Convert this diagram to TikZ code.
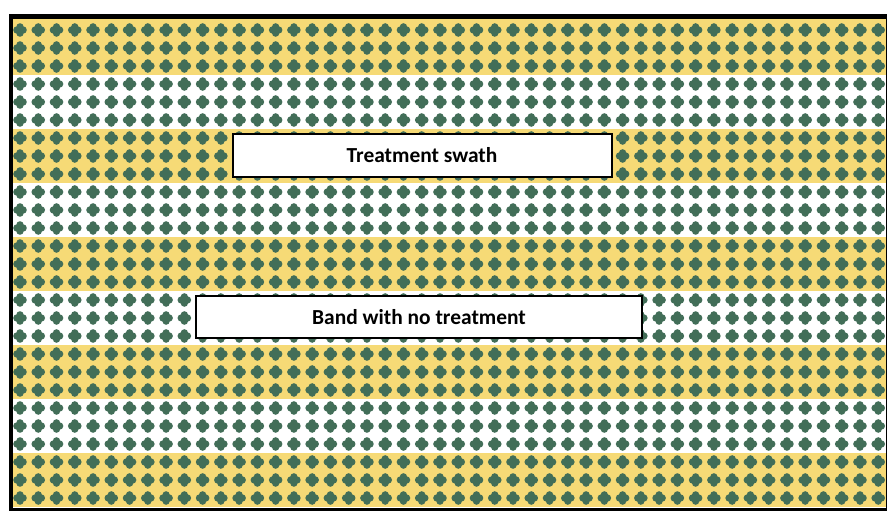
\documentclass[tikz,border=0pt]{standalone}
\usepackage{fontspec}
\setmainfont{Carlito}
\definecolor{leaf}{RGB}{66,110,88}
\definecolor{sun}{RGB}{246,218,118}
\tikzset{
  lab/.style={draw=black, line width=2bp, fill=white, inner sep=0pt,
    font=\fontsize{21.5}{24}\selectfont\bfseries},
}
\begin{document}
\begin{tikzpicture}[x=1bp,y=-1bp]
\useasboundingbox (0,0) rectangle (887,511);
% frame
\fill[black] (8.5,14) rectangle (887,511);
\fill[white] (13,19) rectangle (885.5,507.5);
% yellow bands
\fill[sun] (13,19) rectangle (885.5,75);
\foreach \k in {2,4,6,8} {
  \fill[sun] (13,{21+54*\k}) rectangle (885.5,{75+54*\k});
}
% clover dots
\foreach \r in {0,...,26} {
  \fill[leaf] \foreach \c in {0,...,47} {
    ({20+18.26*\c},{30+18*\r})
      +(3.1,0) circle[radius=3.7] +(-3.1,0) circle[radius=3.7]
      +(0,3.1) circle[radius=3.7] +(0,-3.1) circle[radius=3.7]
      +(0,0) circle[radius=3.7]
  };
}
% labels
\node[lab, minimum width=379bp, minimum height=43bp] (swath) at (422,155.5) {Treatment swath};
\node[lab, minimum width=446bp, minimum height=42bp] (band) at (419,317) {Band with no treatment};
\end{tikzpicture}
\end{document}
